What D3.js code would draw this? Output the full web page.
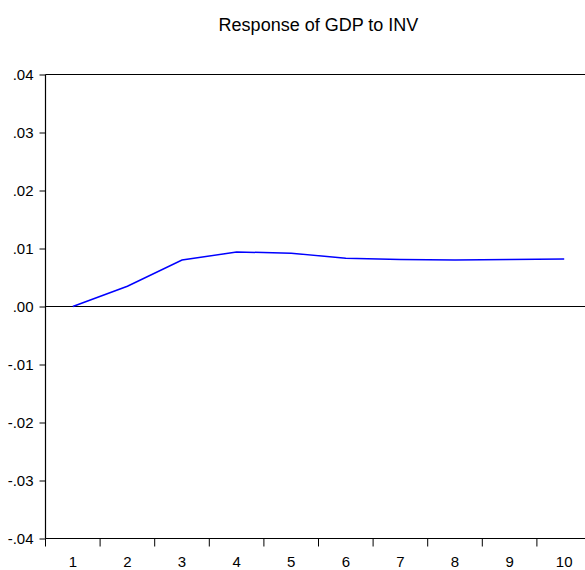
<!DOCTYPE html>
<html>
<head>
<meta charset="utf-8">
<script src="https://cdn.jsdelivr.net/npm/d3@7"></script>
<style>
  html, body { margin: 0; padding: 0; background: #fff; overflow: hidden; }
  svg { display: block; font-family: "Liberation Sans", Arial, sans-serif; }
</style>
</head>
<body>
<svg id="chart" width="585" height="570"></svg>
<script>
// Impulse response of GDP to a shock in INV, periods 1..10
const periods = [1, 2, 3, 4, 5, 6, 7, 8, 9, 10];
const response = [0.0000, 0.0035, 0.0080, 0.0094, 0.0092, 0.0083, 0.0081, 0.0080, 0.0081, 0.0082];
const yTicks = [0.04, 0.03, 0.02, 0.01, 0.00, -0.01, -0.02, -0.03, -0.04];
const yTickLabels = [".04", ".03", ".02", ".01", ".00", "-.01", "-.02", "-.03", "-.04"];
const title = "Response of GDP to INV";

const svg = d3.select("#chart");
const plot = { left: 45.5, right: 591.5, top: 74.5, bottom: 538.5 };

const x = d3.scaleBand().domain(periods).range([plot.left, plot.right]).padding(0);
const y = d3.scaleLinear().domain([-0.04, 0.04]).range([plot.bottom, plot.top]);

// title
svg.append("text")
  .attr("x", (plot.left + plot.right) / 2)
  .attr("y", 31)
  .attr("text-anchor", "middle")
  .attr("font-size", 18)
  .attr("fill", "#000")
  .text(title);

// frame: top, left, bottom, right edges
const frame = svg.append("g").attr("stroke", "#000").attr("stroke-width", 1.2);
frame.append("line").attr("x1", plot.left).attr("x2", plot.right).attr("y1", plot.top).attr("y2", plot.top);
frame.append("line").attr("x1", plot.left).attr("x2", plot.left).attr("y1", plot.top).attr("y2", plot.bottom);
frame.append("line").attr("x1", plot.left).attr("x2", plot.right).attr("y1", plot.bottom).attr("y2", plot.bottom);
frame.append("line").attr("x1", plot.right).attr("x2", plot.right).attr("y1", plot.top).attr("y2", plot.bottom);

// zero reference line
svg.append("line")
  .attr("x1", plot.left).attr("x2", plot.right)
  .attr("y1", y(0)).attr("y2", y(0))
  .attr("stroke", "#000").attr("stroke-width", 1.2);

// y axis ticks and labels
const yAxis = d3.axisLeft(y)
  .tickValues(yTicks)
  .tickSize(6)
  .tickPadding(6)
  .tickFormat((d, i) => yTickLabels[i]);
const gy = svg.append("g").attr("transform", `translate(${plot.left},0)`).call(yAxis);
gy.select(".domain").remove();
gy.selectAll(".tick line").attr("stroke", "#000");
gy.selectAll(".tick text")
  .attr("font-size", 15)
  .attr("font-family", "Liberation Sans, Arial, sans-serif")
  .attr("fill", "#000");

// x axis: tick marks on band boundaries, labels at band centres
const boundaries = periods.map(p => x(p));
svg.append("g").selectAll("line")
  .data(boundaries)
  .join("line")
  .attr("x1", d => d).attr("x2", d => d)
  .attr("y1", plot.bottom).attr("y2", plot.bottom + 8)
  .attr("stroke", "#000").attr("stroke-width", 1);

svg.append("g").selectAll("text")
  .data(periods)
  .join("text")
  .attr("x", d => x(d) + x.bandwidth() / 2)
  .attr("y", 567)
  .attr("text-anchor", "middle")
  .attr("font-size", 15)
  .attr("fill", "#000")
  .text(d => d);

// response line
const line = d3.line()
  .x((d, i) => x(periods[i]) + x.bandwidth() / 2)
  .y(d => y(d));
svg.append("path")
  .datum(response)
  .attr("d", line)
  .attr("fill", "none")
  .attr("stroke", "#0000ff")
  .attr("stroke-width", 1.5);
</script>
</body>
</html>
